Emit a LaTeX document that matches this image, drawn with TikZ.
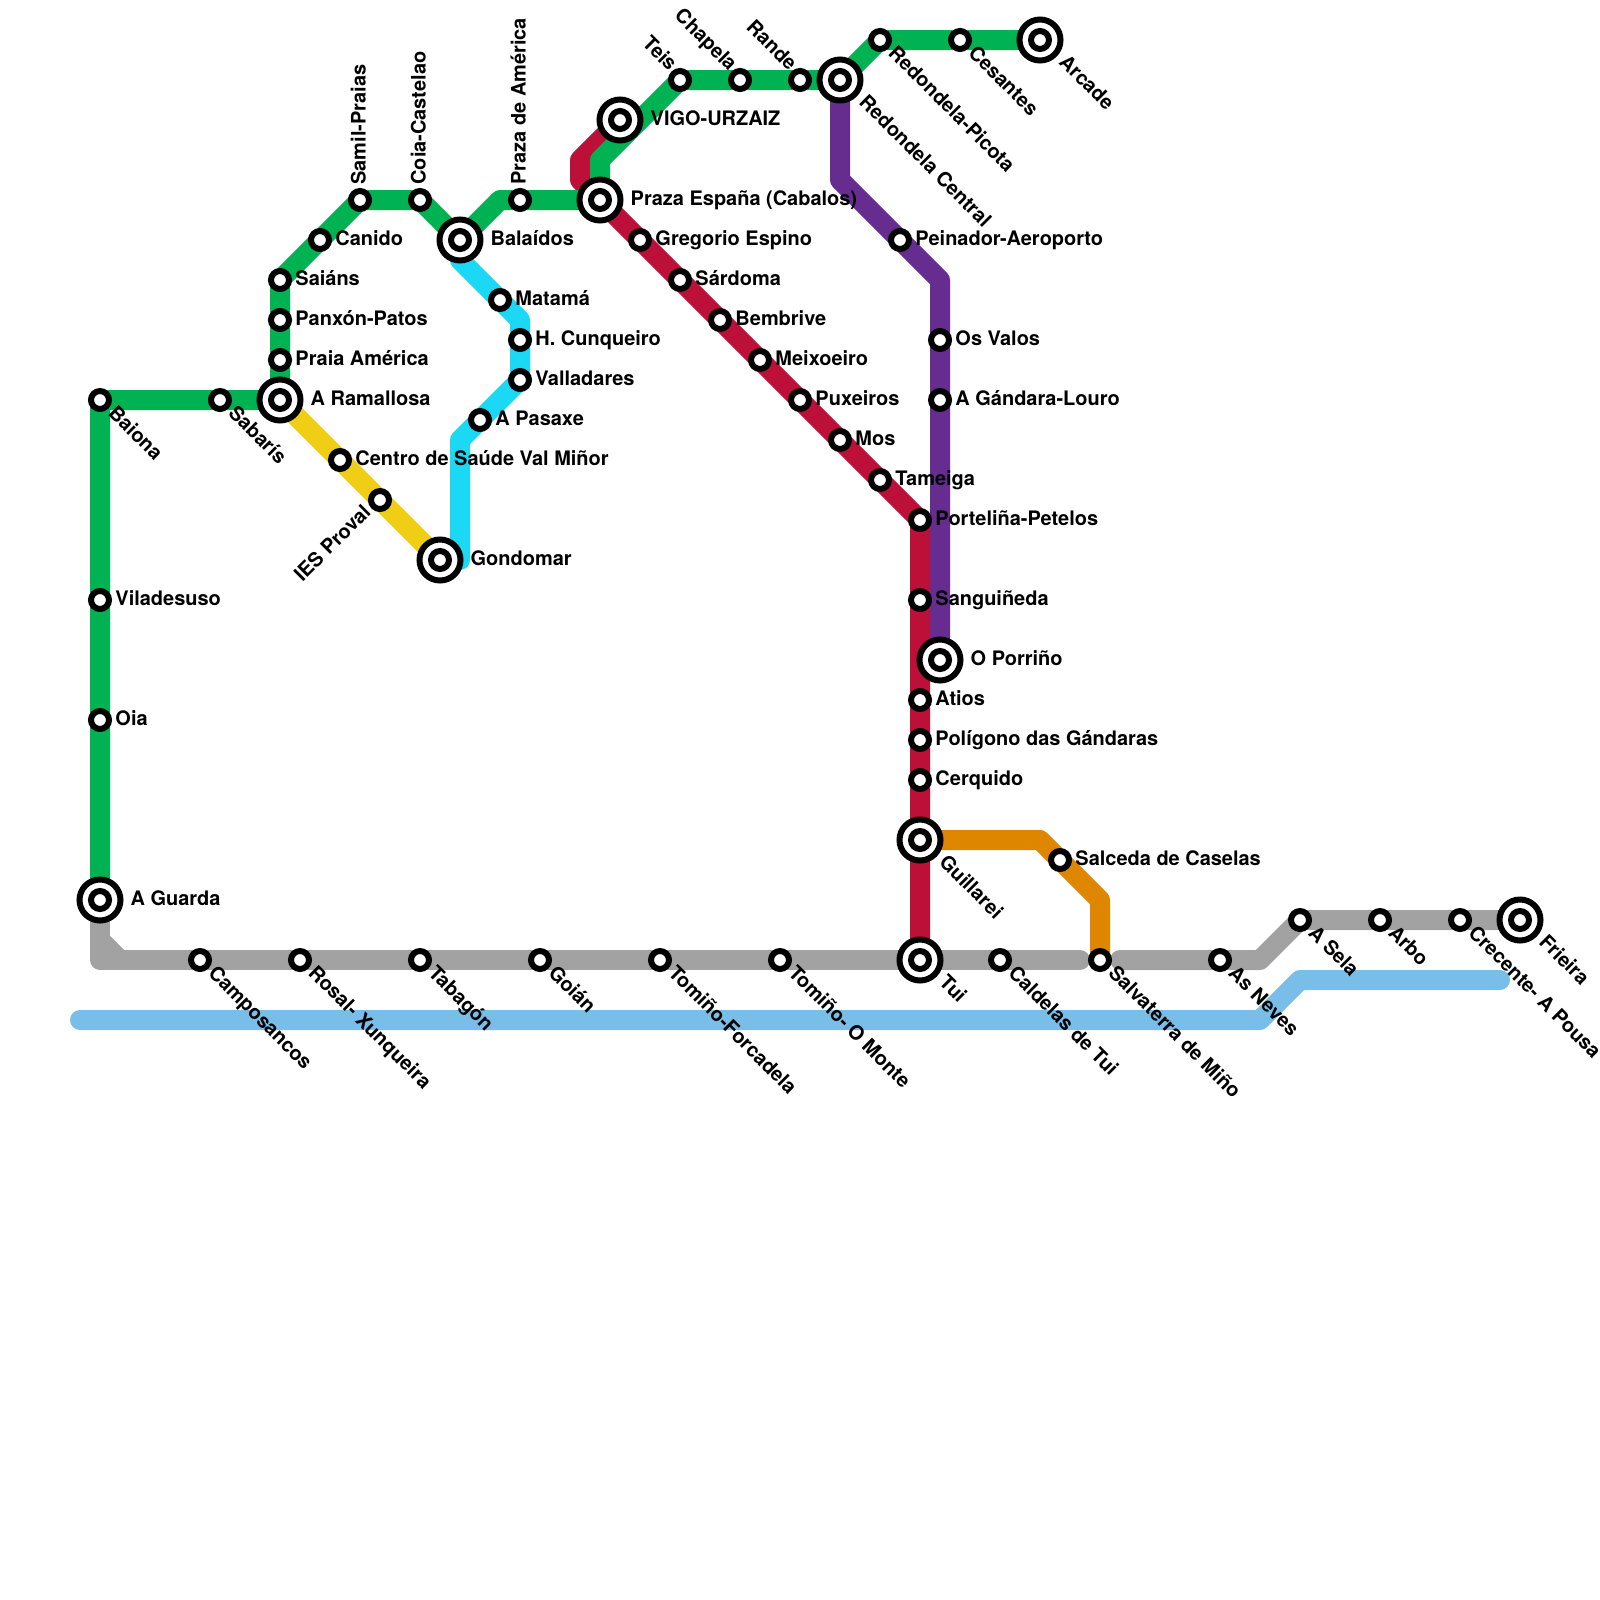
\documentclass[tikz,border=0pt]{standalone}
\usepackage{fontspec}
\setmainfont{TeX Gyre Heros}
\usepackage{xcolor}
\usetikzlibrary{backgrounds}
\definecolor{lineGreen}{HTML}{00B251}
\definecolor{lineRed}{HTML}{BD1038}
\definecolor{linePurple}{HTML}{662C90}
\definecolor{lineCyan}{HTML}{1BD9F5}
\definecolor{lineYellow}{HTML}{F0CE15}
\definecolor{lineOrange}{HTML}{DF8600}
\definecolor{lineGray}{HTML}{A2A2A2}
\definecolor{lineSky}{HTML}{79BDE9}

\begin{document}
\begin{tikzpicture}[
    x=0.5cm, y=-0.5cm,
    rail/.style={line width=0.5cm, line cap=round, line join=round},
    stn/.style={circle, draw=black, fill=white, line width=0.15cm, minimum size=0.45cm, inner sep=0pt},
    hub/.style={circle, draw=black, fill=white, line width=0.15cm, minimum size=1.025cm, inner sep=0pt,
                path picture={\draw[line width=0.15cm] (path picture bounding box.center) circle (0.225cm);}},
    tag/.style={font=\fontsize{14.2pt}{16pt}\selectfont\bfseries, inner sep=0pt},
    tagr/.style={tag, anchor=base west, xshift=0.38cm, yshift=-0.14cm},
    taghr/.style={tag, anchor=base west, xshift=0.76cm, yshift=-0.13cm},
    tagd/.style={tag, anchor=base west, xshift=0.18cm, yshift=-0.35cm, rotate=-45},
    taghd/.style={tag, anchor=base west, xshift=0.45cm, yshift=-0.58cm, rotate=-45},
    tagu/.style={tag, anchor=base west, xshift=0.14cm, yshift=0.38cm, rotate=90},
    tagul/.style={tag, anchor=base east, xshift=-0.28cm, yshift=0.2cm, rotate=-45},
    tagdl/.style={tag, anchor=base east, xshift=-0.2cm, yshift=-0.33cm, rotate=45},
]
\useasboundingbox (0,0) rectangle (80,80);

% Green stations
\node[hub] (guarda) at (5,45) {}; \node[taghr] (guarda-t) at (guarda) {A Guarda};
\node[stn] (oia) at (5,36) {}; \node[tagr] (oia-t) at (oia) {Oia};
\node[stn] (viladesuso) at (5,30) {}; \node[tagr] (viladesuso-t) at (viladesuso) {Viladesuso};
\node[stn] (baiona) at (5,20) {}; \node[tagd] (baiona-t) at (baiona) {Baiona};
\node[stn] (sabaris) at (11,20) {}; \node[tagd] (sabaris-t) at (sabaris) {Sabarís};
\node[hub] (ramallosa) at (14,20) {}; \node[taghr] (ramallosa-t) at (ramallosa) {A Ramallosa};
\node[stn] (praia) at (14,18) {}; \node[tagr] (praia-t) at (praia) {Praia América};
\node[stn] (panxon) at (14,16) {}; \node[tagr] (panxon-t) at (panxon) {Panxón-Patos};
\node[stn] (saians) at (14,14) {}; \node[tagr] (saians-t) at (saians) {Saiáns};
\node[stn] (canido) at (16,12) {}; \node[tagr] (canido-t) at (canido) {Canido};
\node[stn] (samil) at (18,10) {}; \node[tagu] (samil-t) at (samil) {Samil-Praias};
\node[stn] (coia) at (21,10) {}; \node[tagu] (coia-t) at (coia) {Coia-Castelao};
\node[hub] (balaidos) at (23,12) {}; \node[taghr] (balaidos-t) at (balaidos) {Balaídos};
\node[stn] (pamerica) at (26,10) {}; \node[tagu] (pamerica-t) at (pamerica) {Praza de América};
\node[hub] (espana) at (30,10) {}; \node[taghr] (espana-t) at (espana) {Praza España (Cabalos)};
\node[hub] (urzaiz) at (31,6) {}; \node[taghr] (urzaiz-t) at (urzaiz) {VIGO-URZAIZ};
\node[stn] (teis) at (34,4) {}; \node[tagul] (teis-t) at (teis) {Teis};
\node[stn] (chapela) at (37,4) {}; \node[tagul] (chapela-t) at (chapela) {Chapela};
\node[stn] (rande) at (40,4) {}; \node[tagul] (rande-t) at (rande) {Rande};
\node[hub] (central) at (42,4) {}; \node[taghd] (central-t) at (central) {Redondela Central};
\node[stn] (picota) at (44,2) {}; \node[tagd] (picota-t) at (picota) {Redondela-Picota};
\node[stn] (cesantes) at (48,2) {}; \node[tagd] (cesantes-t) at (cesantes) {Cesantes};
\node[hub] (arcade) at (52,2) {}; \node[taghd] (arcade-t) at (arcade) {Arcade};

% Yellow stations
\node[stn] (saude) at (17,23) {}; \node[tagr] (saude-t) at (saude) {Centro de Saúde Val Miñor};
\node[stn] (proval) at (19,25) {}; \node[tagdl] (proval-t) at (proval) {IES Proval};
\node[hub] (gondomar) at (22,28) {}; \node[taghr] (gondomar-t) at (gondomar) {Gondomar};

% Cyan stations
\node[stn] (matama) at (25,15) {}; \node[tagr] (matama-t) at (matama) {Matamá};
\node[stn] (cunqueiro) at (26,17) {}; \node[tagr] (cunqueiro-t) at (cunqueiro) {H. Cunqueiro};
\node[stn] (valladares) at (26,19) {}; \node[tagr] (valladares-t) at (valladares) {Valladares};
\node[stn] (pasaxe) at (24,21) {}; \node[tagr] (pasaxe-t) at (pasaxe) {A Pasaxe};

% Red stations
\node[stn] (gregorio) at (32,12) {}; \node[tagr] (gregorio-t) at (gregorio) {Gregorio Espino};
\node[stn] (sardoma) at (34,14) {}; \node[tagr] (sardoma-t) at (sardoma) {Sárdoma};
\node[stn] (bembrive) at (36,16) {}; \node[tagr] (bembrive-t) at (bembrive) {Bembrive};
\node[stn] (meixoeiro) at (38,18) {}; \node[tagr] (meixoeiro-t) at (meixoeiro) {Meixoeiro};
\node[stn] (puxeiros) at (40,20) {}; \node[tagr] (puxeiros-t) at (puxeiros) {Puxeiros};
\node[stn] (mos) at (42,22) {}; \node[tagr] (mos-t) at (mos) {Mos};
\node[stn] (tameiga) at (44,24) {}; \node[tagr] (tameiga-t) at (tameiga) {Tameiga};
\node[stn] (portelina) at (46,26) {}; \node[tagr] (portelina-t) at (portelina) {Porteliña-Petelos};
\node[stn] (sanguineda) at (46,30) {}; \node[tagr] (sanguineda-t) at (sanguineda) {Sanguiñeda};
\node[stn] (atios) at (46,35) {}; \node[tagr] (atios-t) at (atios) {Atios};
\node[stn] (poligono) at (46,37) {}; \node[tagr] (poligono-t) at (poligono) {Polígono das Gándaras};
\node[stn] (cerquido) at (46,39) {}; \node[tagr] (cerquido-t) at (cerquido) {Cerquido};
\node[hub] (guillarei) at (46,42) {}; \node[taghd] (guillarei-t) at (guillarei) {Guillarei};

% Purple stations
\node[stn] (peinador) at (45,12) {}; \node[tagr] (peinador-t) at (peinador) {Peinador-Aeroporto};
\node[stn] (valos) at (47,17) {}; \node[tagr] (valos-t) at (valos) {Os Valos};
\node[stn] (gandara) at (47,20) {}; \node[tagr] (gandara-t) at (gandara) {A Gándara-Louro};
\node[hub] (porrino) at (47,33) {}; \node[taghr] (porrino-t) at (porrino) {O Porriño};

% Orange station
\node[stn] (salceda) at (53,43) {}; \node[tagr] (salceda-t) at (salceda) {Salceda de Caselas};

% Gray stations
\node[stn] (camposancos) at (10,48) {}; \node[tagd] (camposancos-t) at (camposancos) {Camposancos};
\node[stn] (rosal) at (15,48) {}; \node[tagd] (rosal-t) at (rosal) {Rosal- Xunqueira};
\node[stn] (tabagon) at (21,48) {}; \node[tagd] (tabagon-t) at (tabagon) {Tabagón};
\node[stn] (goian) at (27,48) {}; \node[tagd] (goian-t) at (goian) {Goián};
\node[stn] (forcadela) at (33,48) {}; \node[tagd] (forcadela-t) at (forcadela) {Tomiño-Forcadela};
\node[stn] (monte) at (39,48) {}; \node[tagd] (monte-t) at (monte) {Tomiño- O Monte};
\node[hub] (tui) at (46,48) {}; \node[taghd] (tui-t) at (tui) {Tui};
\node[stn] (caldelas) at (50,48) {}; \node[tagd] (caldelas-t) at (caldelas) {Caldelas de Tui};
\node[stn] (salvaterra) at (55,48) {}; \node[tagd] (salvaterra-t) at (salvaterra) {Salvaterra de Miño};
\node[stn] (neves) at (61,48) {}; \node[tagd] (neves-t) at (neves) {As Neves};
\node[stn] (sela) at (65,46) {}; \node[tagd] (sela-t) at (sela) {A Sela};
\node[stn] (arbo) at (69,46) {}; \node[tagd] (arbo-t) at (arbo) {Arbo};
\node[stn] (crecente) at (73,46) {}; \node[tagd] (crecente-t) at (crecente) {Crecente- A Pousa};
\node[hub] (frieira) at (76,46) {}; \node[taghd] (frieira-t) at (frieira) {Frieira};

% Bends and free ends
\coordinate (g1) at (25,10);
\coordinate (g2) at (30,8);
\coordinate (r1) at (29,8);
\coordinate (r2) at (29,9);
\coordinate (c0) at (23,13);
\coordinate (c1) at (26,16);
\coordinate (c2) at (23,22);
\coordinate (c3) at (23,28);
\coordinate (p1) at (42,9);
\coordinate (p2) at (47,14);
\coordinate (o1) at (52,42);
\coordinate (o2) at (55,45);
\coordinate (a1) at (5,48);
\coordinate (a2) at (5,47);
\coordinate (a3) at (6,48);
\coordinate (a4) at (54,48);
\coordinate (a5) at (56,48);
\coordinate (a6) at (63,48);
\coordinate (s1) at (4,51);
\coordinate (s2) at (63,51);
\coordinate (s3) at (65,49);
\coordinate (s4) at (75,49);

\begin{scope}[on background layer]
% Gray line
\draw[rail, draw=lineGray] (guarda.center) -- (a1) -- (camposancos.center) -- (rosal.center) -- (tabagon.center) -- (goian.center) -- (forcadela.center) -- (monte.center) -- (tui.center) -- (caldelas.center) -- (a4);
\draw[rail, draw=lineGray, line cap=butt] (a2) -- (a3);
\draw[rail, draw=lineGray] (a5) -- (neves.center) -- (a6) -- (sela.center) -- (arbo.center) -- (crecente.center) -- (frieira.center);
% Sky line
\draw[rail, draw=lineSky] (s1) -- (s2) -- (s3) -- (s4);
% Red line
\draw[rail, draw=lineRed] (urzaiz.center) -- (r1) -- (r2) -- (espana.center) -- (gregorio.center) -- (sardoma.center) -- (bembrive.center) -- (meixoeiro.center) -- (puxeiros.center) -- (mos.center) -- (tameiga.center) -- (portelina.center) -- (sanguineda.center) -- (atios.center) -- (poligono.center) -- (cerquido.center) -- (guillarei.center) -- (tui.center);
% Purple line
\draw[rail, draw=linePurple] (central.center) -- (p1) -- (peinador.center) -- (p2) -- (valos.center) -- (gandara.center) -- (porrino.center);
% Orange line
\draw[rail, draw=lineOrange] (guillarei.center) -- (o1) -- (salceda.center) -- (o2) -- (salvaterra.center);
% Yellow line
\draw[rail, draw=lineYellow] (ramallosa.center) -- (saude.center) -- (proval.center) -- (gondomar.center);
% Cyan line
\draw[rail, draw=lineCyan] (balaidos.center) -- (c0) -- (matama.center) -- (c1) -- (cunqueiro.center) -- (valladares.center) -- (pasaxe.center) -- (c2) -- (c3) -- (gondomar.center);
% Green line
\draw[rail, draw=lineGreen] (guarda.center) -- (oia.center) -- (viladesuso.center) -- (baiona.center) -- (sabaris.center) -- (ramallosa.center) -- (praia.center) -- (panxon.center) -- (saians.center) -- (canido.center) -- (samil.center) -- (coia.center) -- (balaidos.center) -- (g1) -- (pamerica.center) -- (espana.center) -- (g2) -- (teis.center) -- (chapela.center) -- (rande.center) -- (central.center) -- (picota.center) -- (cesantes.center) -- (arcade.center);
\end{scope}
\end{tikzpicture}
\end{document}
